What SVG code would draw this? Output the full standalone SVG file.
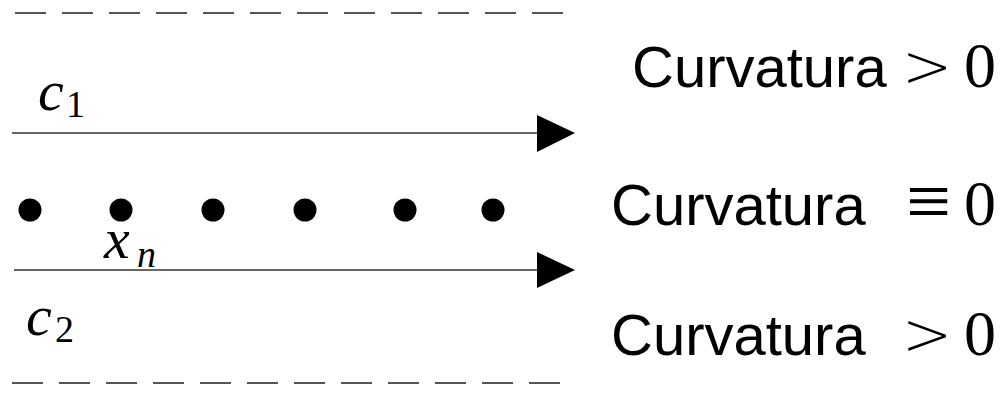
<svg xmlns="http://www.w3.org/2000/svg" width="1008" height="396" viewBox="0 0 1008 396">
<style>
.dash{stroke:#555;stroke-width:2;stroke-dasharray:31 16;fill:none}
.ln{stroke:#333;stroke-width:1.6;fill:none}
.head{fill:#000}
.dot{fill:#000}
.lbl{font-family:"Liberation Sans",Arial,sans-serif;font-size:58px;fill:#000}
.rel{font-family:"DejaVu Sans",sans-serif;font-weight:200;font-size:60px;fill:#000}
.eqv{font-family:"Liberation Serif","DejaVu Serif",serif;font-size:80px;fill:#000}
.zero{font-family:"Liberation Serif","Times New Roman",serif;font-size:64px;fill:#000}
.m{font-family:"Liberation Serif","Times New Roman",serif;font-style:italic;font-size:58px;fill:#000}
.sub{font-family:"Liberation Serif","Times New Roman",serif;font-size:38px;fill:#000}
.subi{font-family:"Liberation Serif","Times New Roman",serif;font-style:italic;font-size:38px;fill:#000}
</style>
<g id="boundaries">
<line class="dash" x1="15" y1="13" x2="564" y2="13"/>
<line class="dash" x1="12" y1="383" x2="561" y2="383"/>
</g>
<g id="connectors">
<line class="ln" x1="12" y1="133" x2="540" y2="133"/>
<polygon class="head" points="537,115 575,133 537,152"/>
<line class="ln" x1="14" y1="270" x2="540" y2="270"/>
<polygon class="head" points="537,252 575,270 537,288"/>
</g>
<g id="points">
<circle class="dot" cx="30" cy="210" r="11.5"/>
<circle class="dot" cx="121" cy="210" r="11.5"/>
<circle class="dot" cx="213" cy="210" r="11.5"/>
<circle class="dot" cx="305" cy="210" r="11.5"/>
<circle class="dot" cx="405" cy="210" r="11.5"/>
<circle class="dot" cx="493" cy="210" r="11.5"/>
</g>
<g id="c1"><text class="m" x="38" y="110">c</text><text class="sub" x="66" y="117">1</text></g>
<g id="xn"><text class="m" x="104" y="258">x</text><text class="subi" x="137" y="267">n</text></g>
<g id="c2"><text class="m" x="26" y="335">c</text><text class="sub" x="55" y="342">2</text></g>
<g id="row1"><text class="lbl" x="632" y="87">Curvatura</text><text class="rel" x="902" y="87">&gt;</text><text class="zero" x="964" y="87">0</text></g>
<g id="row2"><text class="lbl" x="611" y="225">Curvatura</text><text class="eqv" x="906" y="228">≡</text><text class="zero" x="964" y="225">0</text></g>
<g id="row3"><text class="lbl" x="611" y="355">Curvatura</text><text class="rel" x="902" y="355">&gt;</text><text class="zero" x="964" y="355">0</text></g>
</svg>
